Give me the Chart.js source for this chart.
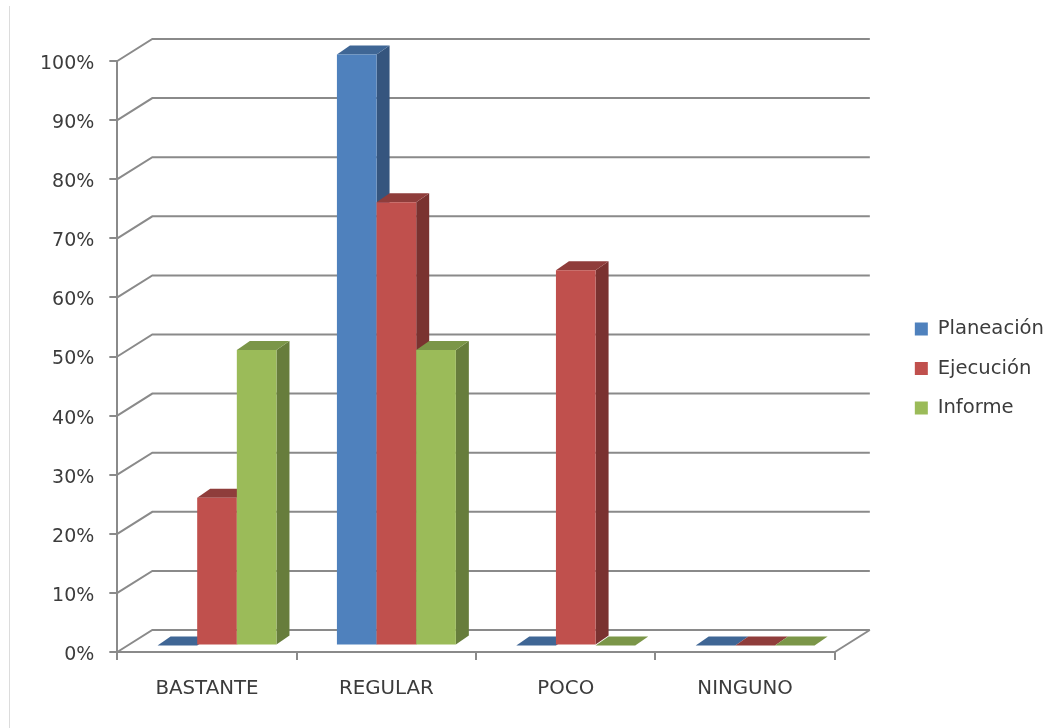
<!DOCTYPE html>
<html>
<head>
<meta charset="utf-8">
<title>Planeación, Ejecución, Informe</title>
<script src="https://cdn.jsdelivr.net/npm/chart.js@4"></script>
<style>
  html, body { margin: 0; padding: 0; background: #fff; }
  #wrap { position: relative; width: 1050px; height: 728px; overflow: hidden; }
  #edge { position: absolute; left: 9px; top: 6px; bottom: 0; width: 1px; background: #dcdcdc; }
  canvas { position: absolute; left: 0; top: 0; }
</style>
</head>
<body>
<div id="wrap">
  <canvas id="chart" width="1050" height="728"></canvas>
  <div id="edge"></div>
</div>
<script>
const categories = ['BASTANTE', 'REGULAR', 'POCO', 'NINGUNO'];
const planeacion = [0, 100, 0, 0];
const ejecucion = [25, 75, 63.5, 0];
const informe = [50, 50, 0, 0];

const seriesNames = ['Planeación', 'Ejecución', 'Informe'];
const frontColors = ['#4f81bd', '#c0504d', '#9bbb59'];
const topColors = ['#3f6695', '#8f3d3b', '#7b9648'];
const sideColors = ['#35557e', '#7a3230', '#677d3c'];

// Pseudo-3D geometry: depth of the floor, of a bar, and how far bars sit from the front edge.
const WALL_DX = 35, WALL_DY = -22;
const BAR_DX = 13, BAR_DY = -9;
const FRONT_DX = 10, FRONT_DY = -6.5;
const AXIS_GREY = '#8a8a8a';
const TEXT_GREY = '#3c3c3c';
const LEGEND_SHIFT = 60, LEGEND_LIFT = -26;

function fillPoly(ctx, color, pts) {
  ctx.beginPath();
  pts.forEach((p, i) => i ? ctx.lineTo(p[0], p[1]) : ctx.moveTo(p[0], p[1]));
  ctx.closePath();
  ctx.fillStyle = color;
  ctx.fill();
}

// Back wall, left wall diagonals and floor outline behind the bars.
const wallPlugin = {
  id: 'wall',
  beforeDatasetsDraw(chart) {
    const { ctx, chartArea: a, scales: { y } } = chart;
    ctx.save();
    ctx.strokeStyle = AXIS_GREY;
    ctx.lineWidth = 2;
    y.ticks.forEach(t => {
      const py = y.getPixelForValue(t.value);
      ctx.beginPath();
      ctx.moveTo(a.left, py);
      ctx.lineTo(a.left + WALL_DX, py + WALL_DY);
      ctx.lineTo(a.right + WALL_DX, py + WALL_DY);
      ctx.stroke();
    });
    const py0 = y.getPixelForValue(0);
    ctx.beginPath();
    ctx.moveTo(a.right, py0);
    ctx.lineTo(a.right + WALL_DX, py0 + WALL_DY);
    ctx.stroke();
    ctx.restore();
  }
};

// Series are painted left to right so each bar's front covers its neighbour's side:
// side and top faces first, then the library's own bar as the front face.
const prismPlugin = {
  id: 'prism',
  beforeDatasetDraw() {
    return false;
  },
  afterDatasetsDraw(chart) {
    const { ctx } = chart;
    seriesNames.forEach((_, i) => {
      const meta = chart.getDatasetMeta(i);
      ctx.save();
      ctx.translate(FRONT_DX, FRONT_DY);
      meta.data.forEach(bar => {
        const l = bar.x - bar.width / 2, r = bar.x + bar.width / 2;
        const t = bar.y, b = bar.base;
        if (b - t > 0.5) {
          fillPoly(ctx, sideColors[i], [[r, t], [r + BAR_DX, t + BAR_DY], [r + BAR_DX, b + BAR_DY], [r, b]]);
        }
        fillPoly(ctx, topColors[i], [[l, t], [l + BAR_DX, t + BAR_DY], [r + BAR_DX, t + BAR_DY], [r, t]]);
      });
      meta.controller.draw();
      ctx.restore();
    });
  }
};

// Sets the legend apart from the plot, beside the floor's right corner.
const legendPlacement = {
  id: 'legendPlacement',
  afterLayout(chart) {
    const lg = chart.legend;
    lg.left += LEGEND_SHIFT;
    lg.right += LEGEND_SHIFT;
    lg.top += LEGEND_LIFT;
    lg.bottom += LEGEND_LIFT;
    lg.adjustHitBoxes();
  }
};

const seriesValues = [planeacion, ejecucion, informe];

new Chart(document.getElementById('chart'), {
  type: 'bar',
  data: {
    labels: categories,
    datasets: seriesNames.map((name, i) => ({
      label: name,
      data: seriesValues[i],
      backgroundColor: frontColors[i],
      borderWidth: 0
    }))
  },
  plugins: [wallPlugin, prismPlugin, legendPlacement],
  options: {
    responsive: false,
    animation: false,
    devicePixelRatio: 1,
    layout: { padding: { left: 25, top: 61, right: 56, bottom: 0 } },
    datasets: { bar: { barPercentage: 1, categoryPercentage: 0.663 } },
    scales: {
      x: {
        offset: true,
        border: { color: AXIS_GREY, width: 2 },
        grid: { display: true, drawOnChartArea: false, offset: true, color: AXIS_GREY, lineWidth: 2, tickLength: 8 },
        ticks: { color: TEXT_GREY, font: { family: 'DejaVu Sans', size: 19.8 }, padding: 17, maxRotation: 0 },
        afterFit(s) { s.height = 76; }
      },
      y: {
        min: 0,
        max: 100,
        border: { color: AXIS_GREY, width: 2 },
        grid: { display: true, drawOnChartArea: false, color: AXIS_GREY, lineWidth: 2, tickLength: 8 },
        ticks: {
          stepSize: 10,
          color: TEXT_GREY,
          font: { family: 'DejaVu Sans', size: 19 },
          padding: 15,
          labelOffset: 3,
          callback: v => v + '%'
        }
      }
    },
    plugins: {
      tooltip: { enabled: false },
      legend: {
        position: 'right',
        labels: {
          color: TEXT_GREY,
          font: { family: 'DejaVu Sans', size: 19.6 },
          boxWidth: 13,
          boxHeight: 13,
          padding: 20
        }
      }
    }
  }
});
</script>
</body>
</html>
